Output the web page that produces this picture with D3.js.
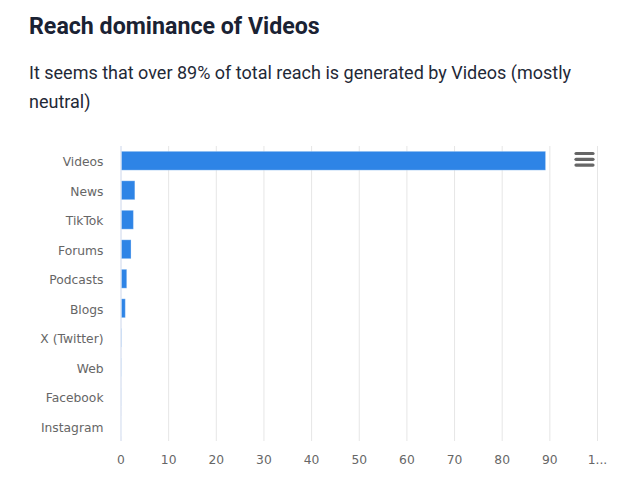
<!DOCTYPE html>
<html>
<head>
<meta charset="utf-8">
<script src="https://cdn.jsdelivr.net/npm/d3@7"></script>
<style>
  html, body { margin: 0; padding: 0; background: #fff; }
  text { font-family: "DejaVu Sans", sans-serif; }
</style>
</head>
<body>
<svg id="chart" width="636" height="500"></svg>
<script>
const categories = ['Videos', 'News', 'TikTok', 'Forums', 'Podcasts', 'Blogs', 'X (Twitter)', 'Web', 'Facebook', 'Instagram']
const reach = [89, 2.8, 2.5, 2, 1.1, 0.8, 0.05, 0.03, 0.02, 0.01]
const tickValues = [0, 10, 20, 30, 40, 50, 60, 70, 80, 90, 100]
const tickLabels = ['0', '10', '20', '30', '40', '50', '60', '70', '80', '90', '1...']
const subtitleLines = ['It seems that over 89% of total reach is generated by Videos (mostly', 'neutral)']

const svg = d3.select('#chart')
const margin = {top: 146, right: 38.5, bottom: 59, left: 121}
const width = 636, height = 500

const x = d3.scaleLinear().domain([0, 100]).range([margin.left, width - margin.right])
const y = d3.scaleBand().domain(categories).range([margin.top, height - margin.bottom]).paddingInner(0.36).paddingOuter(0.18)

// header
svg.append('text')
  .attr('x', 29).attr('y', 34)
  .style('font-family', 'Roboto')
  .style('font-weight', 700)
  .style('font-size', '23.2px')
  .attr('fill', '#1a2233')
  .text('Reach dominance of Videos')

svg.selectAll('.sub')
  .data(subtitleLines)
  .join('text')
  .attr('class', 'sub')
  .attr('x', 29)
  .attr('y', (d, i) => 78.5 + i * 29)
  .style('font-family', 'Roboto')
  .style('font-size', '18px')
  .attr('fill', '#1f2937')
  .text(d => d)

// gridlines
svg.append('g')
  .selectAll('line')
  .data(tickValues.slice(1))
  .join('line')
  .attr('x1', d => x(d)).attr('x2', d => x(d))
  .attr('y1', margin.top).attr('y2', height - margin.bottom)
  .attr('stroke', '#e6e6e6')
  .attr('stroke-width', 1)

svg.append('line')
  .attr('x1', x(0)).attr('x2', x(0))
  .attr('y1', margin.top).attr('y2', height - margin.bottom)
  .attr('stroke', '#ccd6eb')
  .attr('stroke-width', 1)

// bars
svg.append('g')
  .selectAll('rect')
  .data(reach)
  .join('rect')
  .attr('x', x(0) + 0.5)
  .attr('y', (d, i) => y(categories[i]))
  .attr('width', d => x(d) - x(0))
  .attr('height', y.bandwidth())
  .attr('fill', '#2e84e6')
  .attr('stroke', '#fff')
  .attr('stroke-opacity', 0.3)
  .attr('stroke-width', 1)

// axis labels
svg.selectAll('.cat')
  .data(categories)
  .join('text')
  .attr('class', 'cat')
  .attr('x', 103.5)
  .attr('y', d => y(d) + y.bandwidth() / 2 + 5.5)
  .attr('text-anchor', 'end')
  .style('font-size', '12.3px')
  .attr('fill', '#666')
  .text(d => d)

svg.selectAll('.tick-label')
  .data(tickValues)
  .join('text')
  .attr('class', 'tick-label')
  .attr('x', d => x(d))
  .attr('y', 464)
  .attr('text-anchor', 'middle')
  .style('font-size', '12.3px')
  .attr('fill', '#666')
  .text((d, i) => tickLabels[i])

// menu icon
svg.append('g')
  .selectAll('line')
  .data([0, 1, 2])
  .join('line')
  .attr('x1', 576).attr('x2', 593)
  .attr('y1', d => 153.5 + d * 5.8).attr('y2', d => 153.5 + d * 5.8)
  .attr('stroke', '#666')
  .attr('stroke-width', 3.2)
  .attr('stroke-linecap', 'round')
</script>
</body>
</html>
